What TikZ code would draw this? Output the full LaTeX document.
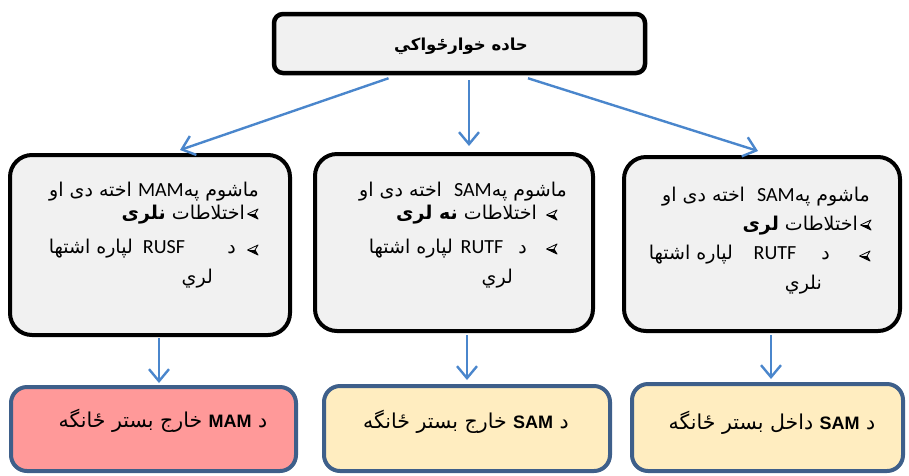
\documentclass[tikz,border=0pt]{standalone}
\usepackage{fontspec}
\setmainfont{DejaVu Sans}
\newfontfamily\arf[Script=Arabic]{DejaVu Sans}
\newfontfamily\latf{Carlito}
\newfontfamily\latb{Liberation Sans}
\TeXXeTstate=1
\usetikzlibrary{arrows.meta,calc}
\definecolor{boxgray}{HTML}{F1F1F1}
\definecolor{pinkfill}{HTML}{FF9999}
\definecolor{yelfill}{HTML}{FFEDC0}
\definecolor{botblue}{HTML}{3E5F8A}
\definecolor{arrblue}{HTML}{4A86CC}
\newcommand\rtl[1]{{\arf\beginR #1\endR}}
\newcommand\lat[1]{\beginL{\latf\fontsize{20}{22}\selectfont #1}\endL{}}
\newcommand\latbold[1]{\beginL{\latb\bfseries\fontsize{18}{20}\selectfont #1}\endL{}}
\begin{document}
\begin{tikzpicture}[x=1pt,y=-1pt,
  topbox/.style={draw=black,line width=4.5pt,fill=boxgray,rounded corners=9pt,inner sep=0pt},
  midbox/.style={draw=black,line width=4pt,fill=boxgray,rounded corners=22pt,inner sep=0pt},
  botbox/.style={draw=botblue,line width=4pt,rounded corners=16pt,inner sep=0pt},
  arr/.style={draw=arrblue,line width=2.4pt,-{Straight Barb[length=12pt,width=20pt]}},
  txt/.style={inner sep=0pt,anchor=base east,font=\fontsize{19}{22}\selectfont},
  bt/.style={inner sep=0pt,anchor=base,font=\fontsize{20.5}{23}\selectfont},
  ttl/.style={inner sep=0pt,anchor=base,font=\fontsize{16.5}{19}\selectfont\bfseries},
  bulletmark/.pic={
    \draw[line width=0.8pt,line join=round] (-5.5,0) -- (5,-5) -- (2,0) -- (5,5) -- cycle;
    \fill (-5.5,0) -- (2,0) -- (5,5) -- cycle;}]
\useasboundingbox (0,0) rectangle (909,475);

% boxes
\node[topbox,minimum width=371pt,minimum height=59pt] (top) at (459.5,43.5) {};
\node[ttl] (title) at (461,50) {\rtl{حاده خوارځواکي}};

\node[midbox,minimum width=280pt,minimum height=180pt] (m1) at (150,245) {};
\node[midbox,minimum width=278pt,minimum height=177pt] (m2) at (454,242.5) {};
\node[midbox,minimum width=276pt,minimum height=174pt] (m3) at (762,244) {};

\node[botbox,fill=pinkfill,minimum width=285pt,minimum height=84pt] (b1) at (153.5,429) {};
\node[botbox,fill=yelfill,minimum width=286pt,minimum height=85pt] (b2) at (467,428.5) {};
\node[botbox,fill=yelfill,minimum width=271pt,minimum height=87pt] (b3) at (767.5,427.5) {};

% left box text
\node[txt] (l1) at (259,196) {\rtl{ماشوم په\lat{MAM} اخته دی او}};
\pic at (253,214) {bulletmark};
\node[txt] (l2) at (245,219) {\rtl{اختلاطات {\bfseries نلری}}};
\pic at (253,250) {bulletmark};
\node[txt] (l3a) at (236,253) {\rtl{د}};
\node[txt,anchor=base] (l3c) at (164,253) {\lat{RUSF}};
\node[txt] (l3d) at (133,253) {\rtl{لپاره اشتها}};
\node[txt] (l4) at (213,283) {\rtl{لري}};

% middle box text
\node[txt] (c1) at (567,196) {\rtl{ماشوم په\lat{SAM}\ \ اخته دی او}};
\pic at (552,215) {bulletmark};
\node[txt] (c2) at (537,219) {\rtl{اختلاطات {\bfseries نه لری}}};
\pic at (552,249) {bulletmark};
\node[txt] (c3a) at (527,253) {\rtl{د}};
\node[txt,anchor=base] (c3c) at (482,253) {\lat{RUTF}};
\node[txt] (c3d) at (453,253) {\rtl{لپاره اشتها}};
\node[txt] (c4) at (513,283) {\rtl{لري}};

% right box text
\node[txt] (r1) at (870,201) {\rtl{ماشوم په\lat{SAM}\ \ اخته دی او}};
\pic at (866,225) {bulletmark};
\node[txt] (r2) at (858,230) {\rtl{اختلاطات {\bfseries لری}}};
\pic at (865,256) {bulletmark};
\node[txt] (r3a) at (830,259) {\rtl{د}};
\node[txt,anchor=base] (r3c) at (775,259) {\lat{RUTF}};
\node[txt] (r3d) at (733,259) {\rtl{لپاره اشتها}};
\node[txt] (r4) at (822,289) {\rtl{نلري}};

% bottom text
\node[bt] (bt1) at (163,427) {\rtl{د \latbold{MAM} خارج بستر ځانگه}};
\node[bt] (bt2) at (466,428) {\rtl{د \latbold{SAM} خارج بستر ځانگه}};
\node[bt] (bt3) at (772,429) {\rtl{د \latbold{SAM} داخل بستر ځانگه}};

% arrows
\draw[arr] ($(top.south)+(-71,3)$) -- ($(m1.north)+(30,-3)$);
\draw[arr] ($(top.south)+(9.5,5)$) -- ($(m2.north)+(15,-6)$);
\draw[arr] ($(top.south)+(68.5,3)$) -- ($(m3.north)+(-4,-4)$);
\draw[arr] ($(m1.south)+(9,1)$) -- ($(b1.north)+(5.5,-2)$);
\draw[arr] ($(m2.south)+(13,2)$) -- ($(b2.north)+(0,-4)$);
\draw[arr] ($(m3.south)+(9,2)$) -- ($(b3.north)+(3.5,-3)$);
\end{tikzpicture}
\end{document}
